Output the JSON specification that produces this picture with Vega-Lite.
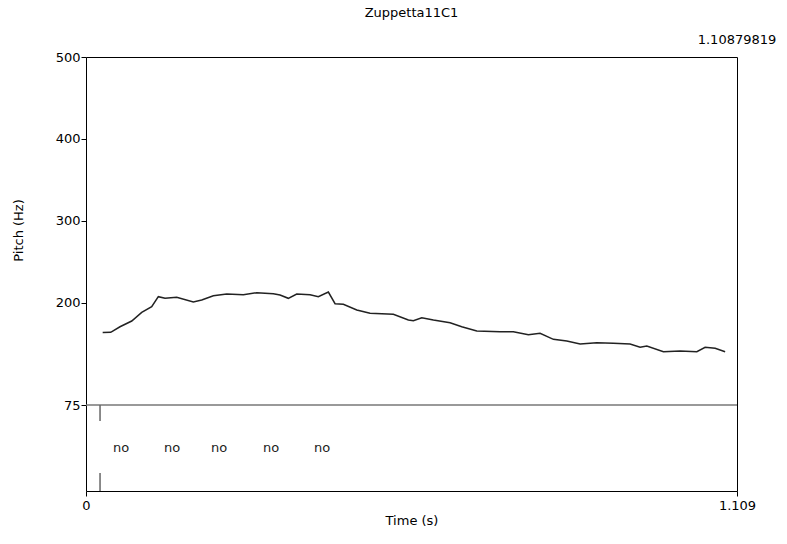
{
  "$schema": "https://vega.github.io/schema/vega-lite/v6.json",
  "width": 651,
  "height": 434,
  "autosize": "none",
  "padding": {"left": 86, "top": 57, "right": 50, "bottom": 53},
  "background": "white",
  "config": {
    "view": {"stroke": "black", "strokeWidth": 1},
    "font": "DejaVu Sans",
    "axis": {"labelFont": "DejaVu Sans", "titleFont": "DejaVu Sans", "labelFontSize": 13, "titleFontSize": 13, "titleFontWeight": "normal", "labelColor": "black", "titleColor": "black", "tickColor": "black", "grid": false, "domain": false}
  },
  "title": {"text": "Zuppetta11C1", "fontSize": 13, "fontWeight": "normal", "font": "DejaVu Sans", "color": "black", "offset": 14},
  "datasets": {
    "pitch": [
      {"t": 0.0284, "hz": 163.5}, {"t": 0.0421, "hz": 163.8}, {"t": 0.0579, "hz": 170.6}, {"t": 0.0779, "hz": 177.6},
      {"t": 0.0949, "hz": 188.2}, {"t": 0.1119, "hz": 195.0}, {"t": 0.1232, "hz": 207.3}, {"t": 0.1346, "hz": 205.3},
      {"t": 0.1545, "hz": 206.5}, {"t": 0.1828, "hz": 200.8}, {"t": 0.1971, "hz": 203.2}, {"t": 0.2169, "hz": 208.5},
      {"t": 0.2397, "hz": 210.6}, {"t": 0.2680, "hz": 209.7}, {"t": 0.2908, "hz": 212.1}, {"t": 0.3191, "hz": 210.9},
      {"t": 0.3305, "hz": 209.3}, {"t": 0.3446, "hz": 205.3}, {"t": 0.3589, "hz": 210.6}, {"t": 0.3816, "hz": 209.7},
      {"t": 0.3957, "hz": 207.3}, {"t": 0.4128, "hz": 213.0}, {"t": 0.4242, "hz": 198.7}, {"t": 0.4383, "hz": 198.0},
      {"t": 0.4612, "hz": 191.0}, {"t": 0.4838, "hz": 187.0}, {"t": 0.5235, "hz": 185.8}, {"t": 0.5491, "hz": 178.8},
      {"t": 0.5576, "hz": 177.9}, {"t": 0.5719, "hz": 181.6}, {"t": 0.5917, "hz": 178.8}, {"t": 0.6201, "hz": 175.5},
      {"t": 0.6400, "hz": 170.6}, {"t": 0.6656, "hz": 165.4}, {"t": 0.7053, "hz": 164.5}, {"t": 0.7279, "hz": 164.5},
      {"t": 0.7535, "hz": 160.8}, {"t": 0.7734, "hz": 162.6}, {"t": 0.7961, "hz": 155.2}, {"t": 0.8189, "hz": 153.1},
      {"t": 0.8416, "hz": 149.5}, {"t": 0.8700, "hz": 151.1}, {"t": 0.8983, "hz": 150.3}, {"t": 0.9267, "hz": 149.5},
      {"t": 0.9438, "hz": 145.5}, {"t": 0.9552, "hz": 147.0}, {"t": 0.9835, "hz": 140.1}, {"t": 1.0119, "hz": 140.9},
      {"t": 1.0404, "hz": 140.1}, {"t": 1.0545, "hz": 145.5}, {"t": 1.0716, "hz": 144.2}, {"t": 1.0886, "hz": 140.1}
    ],
    "labels": [
      {"t": 0.0596, "label": "no"}, {"t": 0.1465, "label": "no"}, {"t": 0.2266, "label": "no"},
      {"t": 0.3152, "label": "no"}, {"t": 0.4020, "label": "no"}
    ],
    "bounds": [{"t": 0.0239}]
  },
  "layer": [
    {
      "data": {"name": "pitch"},
      "mark": {"type": "line", "color": "#222222", "strokeWidth": 1.5, "interpolate": "linear"},
      "encoding": {
        "x": {"field": "t", "type": "quantitative", "scale": {"domain": [0, 1.10879819], "nice": false, "zero": false},
          "axis": {"values": [0, 1.10879819], "labelExpr": "datum.value == 0 ? '0' : '1.109'", "tickSize": 5, "labelPadding": 3, "title": "Time (s)", "titlePadding": 2, "labelFlush": false, "labelOverlap": false, "labelBound": false}},
        "y": {"field": "hz", "type": "quantitative", "scale": {"domain": [-30, 500], "nice": false, "zero": false},
          "axis": {"values": [75, 200, 300, 400, 500], "tickSize": 5, "labelPadding": 1, "title": "Pitch (Hz)", "titleX": -68, "titleY": 173, "titleAlign": "center", "titleBaseline": "middle", "titleAngle": -90}}
      }
    },
    {
      "data": {"values": [{}]},
      "mark": {"type": "rule", "color": "#777777", "strokeWidth": 1.5},
      "encoding": {"y": {"datum": 75}}
    },
    {
      "data": {"name": "bounds"},
      "mark": {"type": "rule", "color": "#666666", "strokeWidth": 1.5},
      "encoding": {"x": {"field": "t", "type": "quantitative"}, "y": {"datum": 75}, "y2": {"datum": 55.5}}
    },
    {
      "data": {"name": "bounds"},
      "mark": {"type": "rule", "color": "#666666", "strokeWidth": 1.5},
      "encoding": {"x": {"field": "t", "type": "quantitative"}, "y": {"datum": -30}, "y2": {"datum": -8}}
    },
    {
      "data": {"name": "labels"},
      "mark": {"type": "text", "fontSize": 13, "font": "DejaVu Sans", "color": "#222222", "baseline": "middle", "align": "center"},
      "encoding": {"x": {"field": "t", "type": "quantitative"}, "y": {"datum": 22.5}, "text": {"field": "label"}}
    },
    {
      "data": {"values": [{"t": 1.10879819, "label": "1.10879819"}]},
      "mark": {"type": "text", "fontSize": 13, "font": "DejaVu Sans", "color": "black", "baseline": "middle", "align": "center", "clip": false},
      "encoding": {"x": {"field": "t", "type": "quantitative"}, "y": {"datum": 521}, "text": {"field": "label"}}
    }
  ]
}
